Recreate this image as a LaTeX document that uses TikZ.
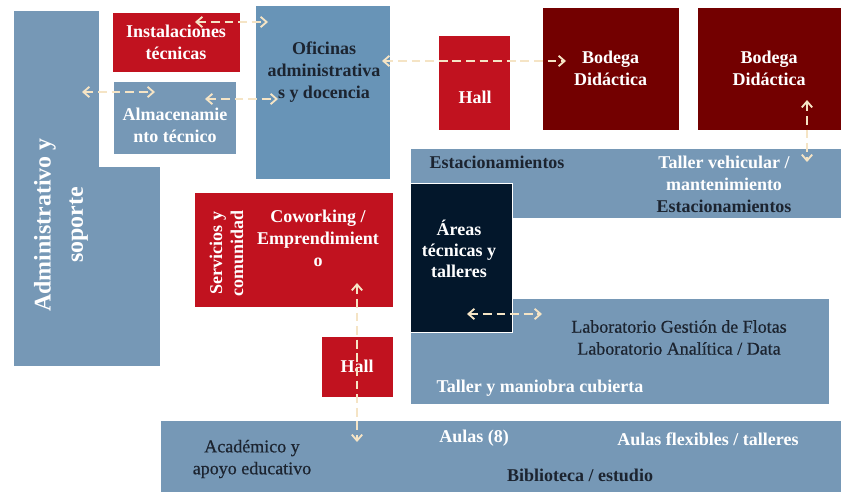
\documentclass[tikz,border=0pt]{standalone}
\usepackage{fontspec}
\setmainfont{Liberation Serif}
\newfontfamily\medfont[FakeBold=0.5]{Liberation Serif}
\usepackage{xcolor}
\usetikzlibrary{arrows.meta,positioning,calc}

\definecolor{zoneblue}{HTML}{7698B6}
\definecolor{officeblue}{HTML}{6894B7}
\definecolor{zonered}{HTML}{C1121F}
\definecolor{zonewine}{HTML}{730000}
\definecolor{zonenavy}{HTML}{03172B}
\definecolor{linkcream}{HTML}{F5E4C5}
\definecolor{inkdark}{HTML}{1C2430}

\begin{document}
\begin{tikzpicture}[
    zone/.style={rectangle, draw=white, line width=0.5pt, inner sep=0pt},
    wtext/.style={text=white, align=center, font=\fontsize{12.8}{15.6}\selectfont\bfseries, inner sep=0pt},
    dtext/.style={text=inkdark, align=center, font=\fontsize{12.8}{15.6}\selectfont\medfont, inner sep=0pt},
    dbold/.style={dtext, font=\fontsize{12.8}{15.6}\selectfont\bfseries},
    link/.style={{Straight Barb[length=1.5mm, width=2.6mm]}-{Straight Barb[length=1.5mm, width=2.6mm]}, draw=linkcream, line width=1.3pt, dash pattern=on 0.22cm off 0.12cm}
  ]
    \useasboundingbox (0,0) rectangle (21.025,-12.35);

    % Administrativo y soporte (L-shaped block)
    \draw[fill=zoneblue, draw=white, line width=0.5pt] (0.325,-0.25) -- (2.475,-0.25) -- (2.475,-4.15) -- (4.0,-4.15) -- (4.0,-9.15) -- (0.325,-9.15) -- cycle;
    \node[wtext, rotate=90, font=\fontsize{17}{23}\selectfont\bfseries] (adm) at (1.525,-5.625) {Administrativo y\\soporte};

    % Upper left rooms
    \node[zone, wtext, fill=zonered, minimum width=3.2cm, minimum height=1.5cm] (inst) at (4.4,-1.05) {Instalaciones\\técnicas};
    \node[zone, fill=zoneblue, minimum width=3.075cm, minimum height=1.825cm] (alm) at (4.3625,-2.9375) {};
    \node[wtext] (almtxt) at (4.375,-3.125) {Almacenamie\\nto técnico};
    \node[zone, fill=officeblue, minimum width=3.375cm, minimum height=4.35cm] (ofi) at (8.0625,-2.3) {};
    \node[dbold] (ofitxt) at (8.1,-1.8) {Oficinas\\administrativa\\s y docencia};

    % Hall and bodegas
    \node[zone, fill=zonered, minimum width=1.8cm, minimum height=2.375cm] (hallA) at (11.85,-2.0625) {};
    \node[wtext] (hallAtxt) at (11.875,-2.425) {Hall};
    \node[zone, wtext, fill=zonewine, minimum width=3.425cm, minimum height=3.075cm] (bod1) at (15.2625,-1.7125) {Bodega\\Didáctica};
    \node[zone, wtext, fill=zonewine, minimum width=3.6cm, minimum height=3.075cm] (bod2) at (19.225,-1.7125) {Bodega\\Didáctica};

    % Estacionamientos band
    \node[zone, fill=zoneblue, minimum width=10.775cm, minimum height=1.75cm] (est) at (15.6375,-4.575) {};
    \node[dbold] (esttxt) at (12.425,-4.05) {Estacionamientos};
    \node[wtext] (taller) at (18.1,-4.325) {Taller vehicular /\\mantenimiento};
    \node[dbold] (est2txt) at (18.1,-5.15) {Estacionamientos};

    % Laboratorios band
    \node[zone, fill=zoneblue, minimum width=10.475cm, minimum height=2.65cm] (lab) at (15.4875,-8.775) {};
    \node[dtext] (labtxt) at (16.975,-8.4375) {Laboratorio Gestión de Flotas\\Laboratorio Analítica / Data};
    \node[wtext] (manio) at (13.5,-9.7) {Taller y maniobra cubierta};

    % Areas tecnicas
    \node[zone, fill=zonenavy, minimum width=2.55cm, minimum height=3.725cm] (areas) at (11.525,-6.4375) {};
    \node[wtext, font=\fontsize{12.8}{14.8}\selectfont\bfseries] (areastxt) at (11.475,-6.225) {Áreas\\técnicas y\\talleres};

    % Servicios y comunidad
    \node[zone, fill=zonered, minimum width=4.975cm, minimum height=2.875cm] (cow) at (7.3375,-6.2375) {};
    \node[wtext, rotate=90, font=\fontsize{12.8}{14.8}\selectfont\bfseries] (serv) at (5.6625,-6.325) {Servicios y\\comunidad};
    \node[wtext] (cowtxt) at (7.95,-5.95) {Coworking /\\Emprendimient\\o};
    \node[zone, wtext, fill=zonered, minimum width=1.8cm, minimum height=1.525cm] (hallB) at (8.925,-9.1625) {Hall};

    % Academico band
    \node[zone, fill=zoneblue, minimum width=17.025cm, minimum height=1.8cm] (acad) at (12.5125,-11.4) {};
    \node[dtext] (acadtxt) at (6.3,-11.475) {Académico y\\apoyo educativo};
    \node[wtext] (aulas) at (11.85,-10.95) {Aulas (8)};
    \node[wtext] (aulasflex) at (17.7,-10.975) {Aulas flexibles / talleres};
    \node[dbold] (bib) at (14.5,-11.875) {Biblioteca / estudio};

    % Connections
    \coordinate (instR) at (4.875,-0.55);   \coordinate (ofiL1) at (6.7,-0.55);
    \coordinate (admR) at (2.05,-2.3);      \coordinate (almL) at (3.875,-2.3);
    \coordinate (almR) at (5.125,-2.475);   \coordinate (ofiL2) at (6.95,-2.475);
    \coordinate (ofiR) at (9.55,-1.525);    \coordinate (bodL) at (14.15,-1.525);
    \coordinate (bodB) at (20.175,-2.5);    \coordinate (estT) at (20.175,-4.05);
    \coordinate (areasR) at (11.675,-7.85); \coordinate (labL) at (13.55,-7.85);
    \coordinate (cowB) at (8.925,-7.075);   \coordinate (acadT) at (8.925,-11.05);

    \draw[link] (instR) -- (ofiL1);
    \draw[link] (admR) -- (almL);
    \draw[link] (almR) -- (ofiL2);
    \draw[link] (ofiR) -- (bodL);
    \draw[link] (bodB) -- (estT);
    \draw[link] (areasR) -- (labL);
    \draw[link] (cowB) -- (acadT);
  \end{tikzpicture}
\end{document}
